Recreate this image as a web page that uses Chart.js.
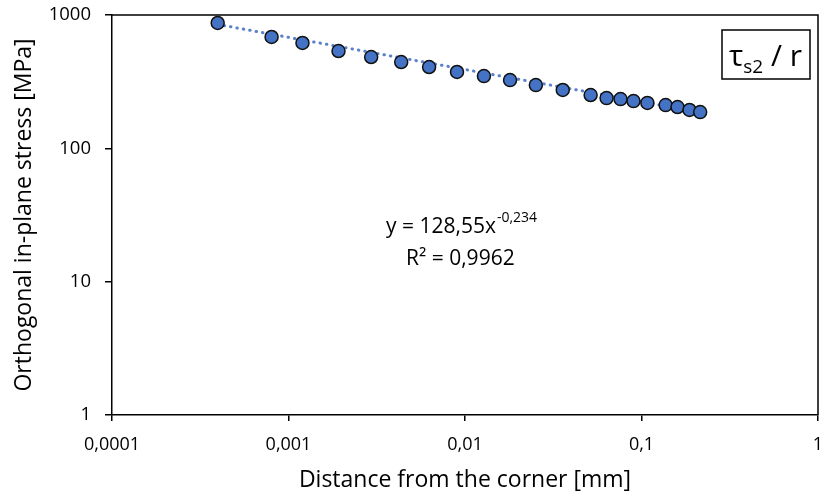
<!DOCTYPE html>
<html>
<head>
<meta charset="utf-8">
<script src="https://cdn.jsdelivr.net/npm/chart.js@4"></script>
<style>
  body { margin: 0; background: #fff; }
  #wrap { width: 826px; height: 496px; }
</style>
</head>
<body>
<div id="wrap"><canvas id="myChart" width="826" height="496"></canvas></div>
<script>
// values
const distance = [0.000397, 0.000802, 0.0012, 0.00192, 0.00294, 0.00435, 0.00626, 0.00901,
  0.0128, 0.018, 0.0252, 0.0358, 0.0515, 0.0634, 0.0761, 0.0901, 0.108, 0.137, 0.16, 0.187, 0.215];
const stress = [871, 684, 617, 537, 484, 444, 407, 374, 348, 325, 298, 274, 251, 238, 234, 226,
  219, 211, 204, 194, 187];
// dotted power trendline, ends
const trendX = [0.000397, 0.215];
const trendY = [850, 186];
const xTicks = [0.0001, 0.001, 0.01, 0.1, 1];
const yTicks = [1, 10, 100, 1000];

const FONT = "'Open Sans', sans-serif";
const blue = '#4472C4';

function fmt(v) {
  return String(v).replace('.', ',');
}

const extras = {
  id: 'extras',
  afterDraw(chart) {
    const c = chart.ctx;
    const a = chart.chartArea;
    c.save();
    // frame top / right
    c.strokeStyle = '#000';
    c.lineWidth = 1.5;
    c.beginPath();
    c.moveTo(a.left, a.top);
    c.lineTo(a.right, a.top);
    c.lineTo(a.right, a.bottom);
    c.stroke();

    // equation
    c.fillStyle = '#000';
    c.textBaseline = 'alphabetic';
    c.font = '21px ' + FONT;
    let x = 386;
    const t1 = 'y = 128,55x';
    c.fillText(t1, x, 233);
    x += c.measureText(t1).width;
    c.font = '14px ' + FONT;
    c.fillText('-0,234', x + 1, 222);
    c.font = '21px ' + FONT;
    c.fillText('R\u00B2 = 0,9962', 406, 265);

    // label box
    c.lineWidth = 1.5;
    c.strokeRect(722, 30, 88, 49);
    c.font = '30px ' + FONT;
    c.fillText('\u03C4', 729, 66);
    let w = c.measureText('\u03C4').width;
    c.font = '19px ' + FONT;
    c.fillText('s2', 729 + w, 73);
    const w2 = c.measureText('s2').width;
    c.font = '30px ' + FONT;
    c.fillText(' / r', 729 + w + w2, 66);
    c.restore();
  }
};

const ctx = document.getElementById('myChart').getContext('2d');
const myChart = new Chart(ctx, {
  type: 'scatter',
  data: {
    datasets: [{
      label: 'data',
      data: distance.map((d, i) => ({x: d, y: stress[i]})),
      backgroundColor: blue,
      borderColor: '#111',
      borderWidth: 1.5,
      pointRadius: 6.5,
      order: 0
    }, {
      label: 'trend',
      data: trendX.map((d, i) => ({x: d, y: trendY[i]})),
      showLine: true,
      pointRadius: 0,
      borderColor: '#5b82c8',
      borderWidth: 3,
      borderDash: [0.5, 6],
      borderCapStyle: 'round',
      order: 1
    }]
  },
  options: {
    responsive: false,
    animation: false,
    layout: { padding: { top: 15, right: 6, left: 0, bottom: 0 } },
    plugins: { legend: { display: false }, tooltip: { enabled: false } },
    scales: {
      x: {
        type: 'logarithmic',
        min: 0.0001,
        max: 1,
        afterBuildTicks: s => { s.ticks = xTicks.map(v => ({value: v})); },
        afterFit: s => { s.height = 81; s.paddingLeft = 0; s.paddingRight = 0; },
        grid: { drawOnChartArea: false, color: '#000', tickLength: 6, lineWidth: 1.5 },
        border: { color: '#000', width: 1.5 },
        ticks: {
          color: '#000', font: { family: FONT, size: 18 }, padding: 13,
          maxRotation: 0, autoSkip: false, callback: v => fmt(v)
        },
        title: {
          display: true, text: 'Distance from the corner [mm]', color: '#000',
          font: { family: FONT, size: 23 }, padding: { top: 0, bottom: 2 }
        }
      },
      y: {
        type: 'logarithmic',
        min: 1,
        max: 1000,
        afterBuildTicks: s => { s.ticks = yTicks.map(v => ({value: v})); },
        afterFit: s => { s.width = 112; s.paddingTop = 0; s.paddingBottom = 0; },
        grid: { drawOnChartArea: false, color: '#000', tickLength: 7, lineWidth: 1.5 },
        border: { color: '#000', width: 1.5 },
        ticks: {
          color: '#000', font: { family: FONT, size: 18.5 }, padding: 14,
          autoSkip: false, callback: v => fmt(v)
        },
        title: {
          display: true, text: 'Orthogonal in-plane stress [MPa]', color: '#000',
          font: { family: FONT, size: 23 }, padding: { top: 11, bottom: 0 }
        }
      }
    }
  },
  plugins: [extras]
});
</script>
</body>
</html>
